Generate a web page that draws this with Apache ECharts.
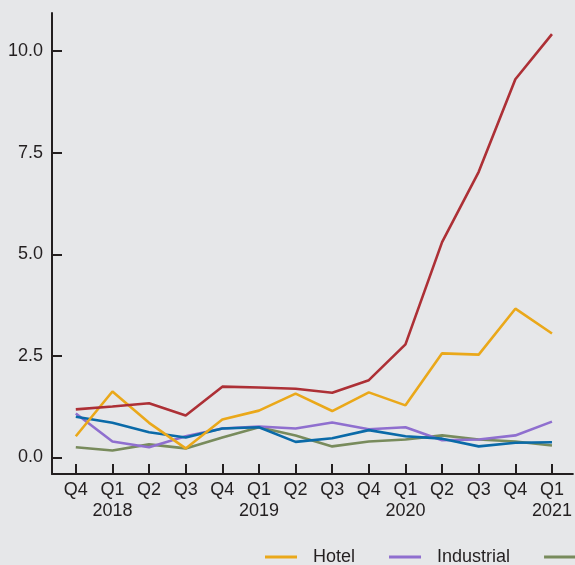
<!DOCTYPE html>
<html>
<head>
<meta charset="utf-8">
<script src="https://cdn.jsdelivr.net/npm/echarts@6/dist/echarts.min.js"></script>
<style>
html,body{margin:0;padding:0;background:#e6e7e9;}
#chart{width:575px;height:565px;}
</style>
</head>
<body>
<div id="chart"></div>
<script>
var quarters = ['Q4','Q1','Q2','Q3','Q4','Q1','Q2','Q3','Q4','Q1','Q2','Q3','Q4','Q1'];
var years = ['', '2018', '', '', '', '2019', '', '', '', '2020', '', '', '', '2021'];
var yTicks = [0, 2.5, 5, 7.5, 10];

var hotel       = [0.52, 1.62, 0.85, 0.22, 0.93, 1.15, 1.57, 1.14, 1.60, 1.28, 2.56, 2.53, 3.66, 3.05];
var industrial  = [1.08, 0.39, 0.25, 0.52, 0.71, 0.76, 0.71, 0.86, 0.69, 0.74, 0.42, 0.44, 0.54, 0.88];
var multifamily = [0.25, 0.17, 0.32, 0.22, 0.49, 0.74, 0.54, 0.27, 0.39, 0.44, 0.54, 0.44, 0.39, 0.29];
var office      = [1.00, 0.85, 0.62, 0.49, 0.71, 0.74, 0.38, 0.47, 0.67, 0.52, 0.46, 0.27, 0.36, 0.37];
var retail      = [1.18, 1.25, 1.33, 1.03, 1.74, 1.72, 1.69, 1.59, 1.90, 2.78, 5.30, 7.03, 9.31, 10.42];

function pts(arr){ return arr.map(function(v,i){ return [i, v]; }); }
var idx = quarters.map(function(q,i){ return i; });

var chart = echarts.init(document.getElementById('chart'), null, {renderer:'canvas'});
var txt = '#231f20';
function line(name, data, color, z){
  return { name:name, type:'line', data:pts(data), symbol:'none', z:z,
    lineStyle:{ color:color, width:2.6 }, itemStyle:{ color:color } };
}
chart.setOption({
  backgroundColor:'#e6e7e9',
  animation:false,
  textStyle:{ fontFamily:'Liberation Sans, Arial, sans-serif' },
  grid:{ left:52, top:13, bottom:91, right:0, containLabel:false },
  legend:{
    left:265, top:548, width:1200, padding:0, itemGap:34, itemWidth:32, itemHeight:3, icon:'rect',
    textStyle:{ fontSize:18, color:txt, padding:[0,0,0,11] },
    data:['Hotel','Industrial','Multifamily','Office','Retail']
  },
  xAxis:{
    type:'value', min:-0.65, max:13.57,
    axisLine:{ show:true, onZero:false, lineStyle:{ color:txt, width:2 } },
    axisTick:{ show:true, inside:true, length:10, customValues:idx, lineStyle:{ color:txt, width:2 } },
    axisLabel:{ customValues:idx, color:txt, fontSize:18, lineHeight:21, margin:6,
      formatter:function(v){ var i=Math.round(v); return quarters[i] + (years[i] ? '\n' + years[i] : ''); } },
    splitLine:{ show:false }
  },
  yAxis:{
    type:'value', min:-0.41, max:10.94,
    axisLine:{ show:true, onZero:false, lineStyle:{ color:txt, width:2 } },
    axisTick:{ show:true, inside:true, length:10, customValues:yTicks, lineStyle:{ color:txt, width:2 } },
    axisLabel:{ customValues:yTicks, color:txt, fontSize:18, margin:9,
      formatter:function(v){ return v.toFixed(1); } },
    splitLine:{ show:false }
  },
  series:[
    line('Hotel', hotel, '#eaa81a', 4),
    line('Industrial', industrial, '#8f6fcf', 2),
    line('Multifamily', multifamily, '#788b5c', 1),
    line('Office', office, '#0a6aa8', 3),
    line('Retail', retail, '#ad3036', 5)
  ]
});
</script>
</body>
</html>
